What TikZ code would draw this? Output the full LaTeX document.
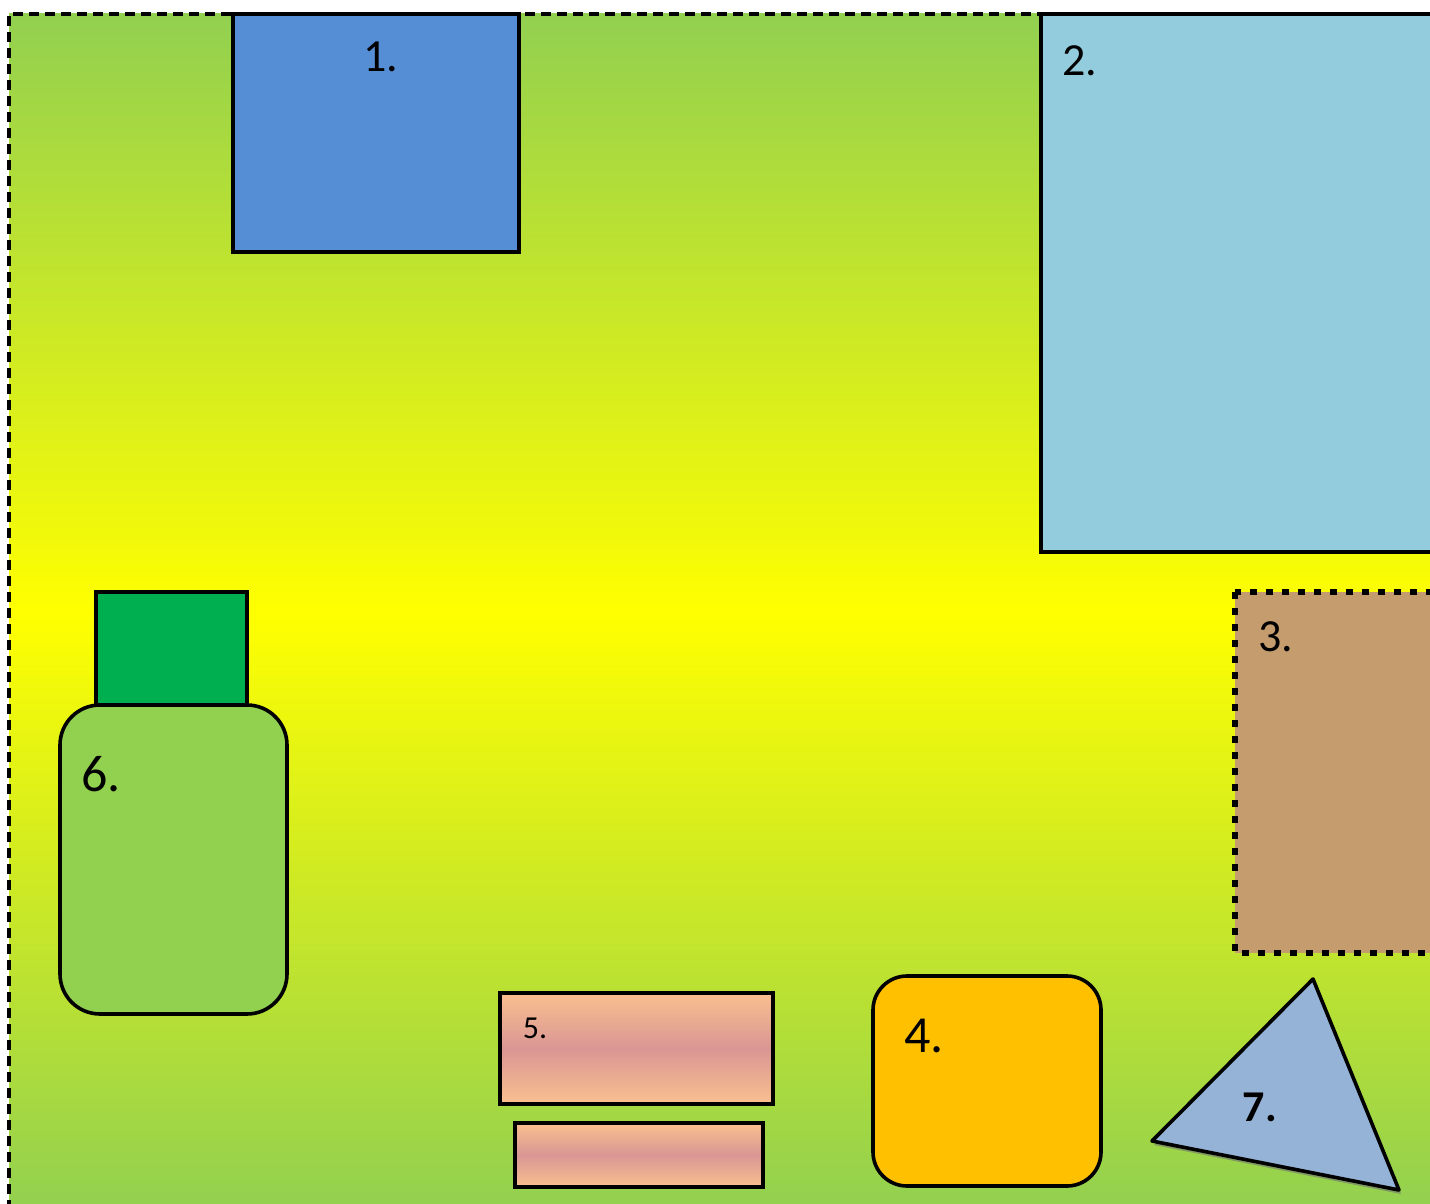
\documentclass[tikz,border=0pt]{standalone}
\usepackage{fontspec}
\setmainfont{Carlito}
\definecolor{lawn}{RGB}{146,208,80}
\definecolor{poolblue}{RGB}{85,142,213}
\definecolor{skyblue}{RGB}{147,205,221}
\definecolor{sand}{RGB}{196,156,110}
\definecolor{amber}{RGB}{255,192,0}
\definecolor{peach}{RGB}{250,192,143}
\definecolor{rose}{RGB}{217,150,148}
\definecolor{hedge}{RGB}{0,176,80}
\definecolor{slate}{RGB}{149,179,215}
\begin{document}
\begin{tikzpicture}[
  x=0.5pt, y=-0.5pt,
  zone/.style={draw, line width=1.8pt},
  num/.style={font=\fontsize{23}{26}\selectfont, inner sep=0pt},
  bignum/.style={font=\fontsize{26}{30}\selectfont, inner sep=0pt}
]
\useasboundingbox (0,0) rectangle (1430,1204);

% ground
\shade[top color=lawn, bottom color=lawn, middle color=yellow] (9,14) rectangle (1440,1210);
\draw[line width=1.7pt, dash pattern=on 5pt off 3pt] (9,1210) -- (9,14) -- (1440,14);

% areas
\draw[zone, fill=poolblue] (233,14) rectangle (519,252);
\draw[zone, fill=skyblue] (1041,14) rectangle (1445,552);
\draw[zone, fill=sand, line width=3.4pt, dash pattern=on 3.4pt off 4.6pt] (1235,592) rectangle (1445,953);
\draw[zone, fill=amber, rounded corners=17pt] (873,976) rectangle (1101,1186);
\shade[top color=peach, bottom color=peach, middle color=rose] (500,993) rectangle (773,1104);
\draw[zone] (500,993) rectangle (773,1104);
\shade[top color=peach, bottom color=peach, middle color=rose] (515,1123) rectangle (763,1187);
\draw[zone] (515,1123) rectangle (763,1187);
\draw[zone, fill=hedge] (96,592) rectangle (247,705);
\draw[zone, fill=lawn, rounded corners=20pt] (60,705) rectangle (287,1014);
\fill[black!55, opacity=0.6] (1154,1145) -- (1315,983) -- (1401,1194) -- cycle;
\draw[zone, fill=slate, line join=round] (1152,1141) -- (1313,979) -- (1399,1190) -- cycle;

% labels
\node[num] (n1) at (381,57) {1.};
\node[num] (n2) at (1080,61) {2.};
\node[num] (n3) at (1276,637) {3.};
\node[bignum] (n4) at (924,1036) {4.};
\node[font=\fontsize{16}{19}\selectfont, inner sep=0pt] (n5) at (535,1028) {5.};
\node[bignum] (n6) at (101,774) {6.};
\node[num, font=\fontsize{22}{26}\selectfont\bfseries] (n7) at (1260,1107) {7.};
\end{tikzpicture}
\end{document}
